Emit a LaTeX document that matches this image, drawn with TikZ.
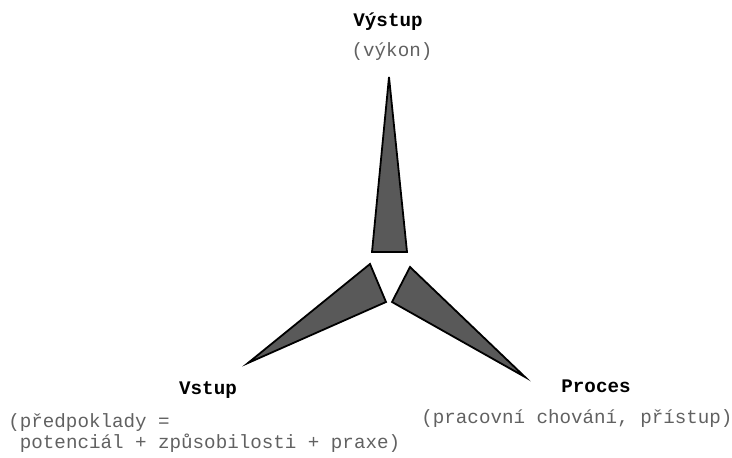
\documentclass[tikz,border=0pt]{standalone}
\usepackage{fontspec}
\setmonofont{Liberation Mono}

\begin{document}
\begin{tikzpicture}[
  x=0.5pt, y=-0.5pt,
  font=\ttfamily\fontsize{9.6}{10.5}\selectfont,
  blade/.style={draw=black, line width=0.9pt, fill=black!65},
  title/.style={font=\ttfamily\bfseries\fontsize{9.6}{10.5}\selectfont, inner sep=0pt, anchor=base},
  note/.style={text=black!62, inner sep=0pt}
]
\useasboundingbox (0,0) rectangle (732,458);

% three blades round the hub
\draw[blade] (389,77) -- (407,252) -- (372,252) -- cycle;
\draw[blade] (248,363) -- (370,264) -- (386,302) -- cycle;
\draw[blade] (525,377) -- (392,302) -- (410,267) -- cycle;

% labels
\node[title] (vystup) at (388,27) {Výstup};
\node[note, anchor=base] (vykon) at (392,57) {(výkon)};

\node[title] (vstup) at (208,394) {Vstup};
% base of a two-line node sits on its last line
\node[note, anchor=base west, align=left] (predpoklady) at (8,448)
  {(předpoklady =\\\ potenciál + způsobilosti + praxe)};

\node[title] (proces) at (596,393) {Proces};
\node[note, anchor=base west] (chovani) at (421,423) {(pracovní chování, přístup)};
\end{tikzpicture}
\end{document}
